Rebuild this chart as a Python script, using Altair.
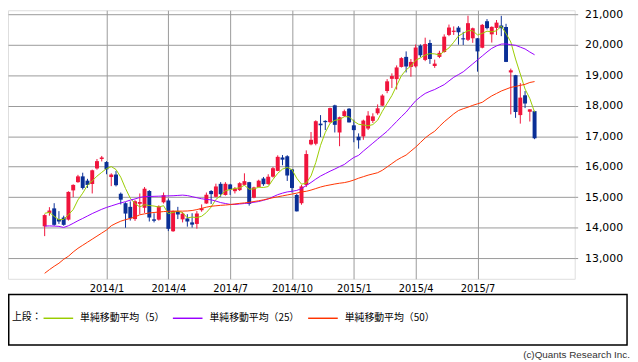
import altair as alt
import pandas as pd

# ---- data (weekly candles, Oct 2013 - Sep 2015) ----
weeks = pd.date_range("2013-10-07", periods=104, freq="W-MON")

opens = [14040, 14480, 14630, 14280, 14330, 14260, 15220, 15490, 15680, 15540,
         15430, 15940, 16250, 16150, 15660, 15740, 15110, 14800, 14680, 14280,
         14780, 14650, 15200, 14270, 14260, 14830, 14890, 13880, 14520, 14270,
         14300, 14170, 14120, 14570, 14790, 15200, 15010, 15435, 15070, 15415,
         15195, 15230, 15400, 15490, 14980, 15330, 15610, 15430, 15670, 15860,
         16300, 16340, 15910, 15070, 14800, 15400, 16730, 16750, 17410, 17500,
         17460, 18010, 17120, 17660, 17900, 17355, 16980, 16990, 17250, 17500,
         17750, 18000, 18480, 18880, 18870, 19270, 19600, 19270, 19290, 19970,
         19500, 20055, 19300, 19600, 19760, 20320, 20420, 20560, 20210, 20160,
         20210, 20210, 19900, 20770, 20340, 20550, 20630, 20580, 19090, 19000,
         17690, 18340, 17800, 17820]
highs = [14440, 14670, 14800, 14540, 14390, 15190, 15420, 15730, 15800, 15600,
         15900, 16250, 16350, 16180, 15780, 15860, 15150, 14830, 14860, 14900,
         15120, 15330, 15230, 14470, 14730, 15150, 14950, 14560, 14680, 14510,
         14440, 14470, 14540, 14760, 15150, 15230, 15440, 15490, 15490, 15435,
         15330, 15490, 15780, 15500, 15340, 15570, 15660, 15750, 15990, 16370,
         16380, 16374, 15920, 15100, 15400, 16533, 17135, 17520, 17690, 17520,
         17935, 18030, 17640, 17870, 17920, 17540, 17090, 17540, 17820, 17750,
         18040, 18375, 18870, 19060, 19320, 19590, 19780, 19530, 20006, 20010,
         20230, 20160, 19510, 19800, 20340, 20660, 20600, 20610, 20420, 20952,
         20560, 20220, 20680, 20840, 20600, 20810, 20946, 20685, 19215, 19010,
         18740, 18480, 17880, 17830]
lows = [13720, 14390, 14060, 14120, 14060, 14230, 15000, 15470, 15250, 15300,
        15120, 15900, 16170, 15750, 15360, 15350, 14760, 13995, 14230, 14220,
        14440, 14480, 14200, 14170, 14230, 14790, 13885, 13860, 14280, 14170,
        14030, 14000, 13965, 14520, 14780, 14775, 15000, 15010, 15050, 15070,
        15120, 15200, 15380, 14720, 14960, 15320, 15370, 15400, 15640, 15850,
        16045, 15530, 15150, 14529, 14750, 15330, 16700, 16700, 16970, 17200,
        17420, 17120, 16670, 17630, 17450, 16800, 16590, 16880, 17200, 17430,
        17700, 17990, 18410, 18580, 18530, 19250, 19090, 18950, 19250, 19590,
        19460, 19370, 19240, 19560, 19740, 20280, 20320, 20000, 19990, 20120,
        20060, 19115, 19880, 20500, 20070, 20320, 20280, 19430, 17714, 17600,
        17410, 17920, 17480, 16900]
closes = [14410, 14560, 14090, 14200, 14090, 15170, 15400, 15680, 15300, 15400,
          15880, 16180, 16300, 15910, 15740, 15390, 14915, 14460, 14310, 14865,
          14840, 15275, 14330, 14224, 14696, 15063, 13960, 14540, 14430, 14457,
          14200, 14097, 14462, 14632, 15077, 15097, 15349, 15095, 15437, 15250,
          15280, 15457, 15523, 14778, 15318, 15539, 15424, 15668, 15948, 16321,
          16229, 15708, 15300, 14532, 15350, 16413, 16880, 17490, 17357, 17459,
          17920, 17371, 17621, 17818, 17450, 17197, 16864, 17511, 17674, 17648,
          17913, 18332, 18798, 18971, 19254, 19560, 19285, 19435, 19907, 19652,
          20020, 19531, 19379, 19732, 20264, 20563, 20460, 20407, 20174, 20706,
          20539, 19780, 20650, 20544, 20585, 20724, 20540, 19435, 19160, 17792,
          18264, 18070, 17880, 16930]

ma5 = [14468, 14499, 14369, 14257, 14270, 14422, 14590, 14908, 15128, 15390,
       15532, 15688, 15812, 15934, 16002, 15904, 15651, 15283, 14963, 14788,
       14678, 14750, 14724, 14707, 14673, 14718, 14455, 14497, 14538, 14490,
       14318, 14345, 14329, 14370, 14494, 14673, 14923, 15050, 15211, 15246,
       15282, 15304, 15389, 15258, 15271, 15323, 15316, 15345, 15579, 15780,
       15918, 15975, 15901, 15618, 15424, 15461, 15695, 16133, 16698, 17120,
       17421, 17519, 17546, 17638, 17636, 17491, 17390, 17368, 17339, 17379,
       17522, 17816, 18073, 18332, 18654, 18983, 19174, 19301, 19488, 19568,
       19660, 19709, 19698, 19663, 19785, 19894, 20080, 20285, 20374, 20462,
       20457, 20321, 20370, 20444, 20420, 20457, 20609, 20366, 20089, 19530,
       19038, 18544, 18233, 17787]
ma25 = [14050, 14055, 14050, 14040, 14005, 14060, 14140, 14225, 14300, 14380,
        14460, 14530, 14600, 14660, 14710, 14760, 14810, 14850, 14900, 14940,
        14990, 15015, 15020, 15025, 15030, 15035, 15040, 15045, 15055, 15065,
        15050, 15015, 14980, 14945, 14925, 14910, 14870, 14820, 14790, 14760,
        14760, 14775, 14790, 14805, 14830, 14855, 14895, 14940, 15010, 15080,
        15130, 15170, 15190, 15220, 15280, 15380, 15480, 15590, 15690, 15770,
        15850, 15920, 16000, 16070, 16190, 16300, 16370, 16510, 16640, 16770,
        16900, 17030, 17160, 17320, 17480, 17640, 17790, 17980, 18160, 18290,
        18400, 18470, 18530, 18610, 18690, 18810, 18930, 19020, 19110, 19240,
        19370, 19500, 19630, 19760, 19880, 19960, 20020, 20025, 20000, 19980,
        19920, 19860, 19760, 19670]
ma50 = [12500, 12620, 12730, 12830, 12960, 13060, 13200, 13320, 13420, 13520,
        13620, 13720, 13820, 13920, 14060, 14140, 14210, 14260, 14300, 14350,
        14420, 14450, 14480, 14495, 14510, 14525, 14535, 14540, 14540, 14540,
        14545, 14560, 14590, 14630, 14670, 14700, 14715, 14730, 14740, 14755,
        14775, 14795, 14810, 14830, 14855, 14880, 14910, 14945, 14980, 15010,
        15040, 15070, 15100, 15130, 15170, 15190, 15230, 15280, 15330, 15370,
        15400, 15430, 15455, 15475, 15510, 15560, 15620, 15670, 15720, 15760,
        15800, 15880, 15990, 16100, 16210, 16300, 16380, 16510, 16640, 16790,
        16940, 17060, 17160, 17320, 17470, 17600, 17730, 17840, 17900, 17950,
        18010, 18060, 18110, 18220, 18320, 18400, 18480, 18540, 18600, 18630,
        18665, 18700, 18760, 18790]

series_names = ["単純移動平均（5）", "単純移動平均（25）", "単純移動平均（50）"]
series_colors = ["#99cc00", "#9900ff", "#ff3300"]
tick_labels = ["2014/1", "2014/4", "2014/7", "2014/10", "2015/1", "2015/4", "2015/7"]
y_ticks = [13000, 14000, 15000, 16000, 17000, 18000, 19000, 20000, 21000]
legend_title = "上段："
copyright_text = "(c)Quants Research Inc."

UP = "#f0143c"
DOWN = "#0a2f96"
GRID = "#999999"

# ---- tables ----
candles = pd.DataFrame({"idx": range(len(weeks)), "open": opens, "high": highs,
                        "low": lows, "close": closes})
ma = pd.concat([
    pd.DataFrame({"idx": range(len(weeks)), "value": vals, "series": name})
    for name, vals in zip(series_names, [ma5, ma25, ma50])
])

tick_idx = [i for i, d in enumerate(weeks)
            if f"{d.year}/{d.month}" in tick_labels and d.day <= 7]
label_expr = "''"
for i in reversed(tick_idx):
    d = weeks[i]
    label_expr = f"datum.value == {i} ? '{d.year}/{d.month}' : ({label_expr})"

xscale = alt.Scale(domain=[-6.67, 110.4], nice=False, zero=False)
yscale = alt.Scale(domain=[12320, 21130], nice=False, zero=False)

xaxis = alt.Axis(values=tick_idx, labelExpr=label_expr, ticks=False, domain=False,
                 grid=True, gridColor=GRID, gridOpacity=1, labelFont="DejaVu Sans",
                 labelFontSize=10, labelColor="#000000", labelPadding=5,
                 labelFlush=False, labelOverlap=False, title=None)
yaxis = alt.Axis(orient="right", values=y_ticks, format=",d", tickSize=3,
                 tickColor=GRID, domain=False, grid=True, gridColor=GRID,
                 gridOpacity=1, labelFont="DejaVu Sans", labelFontSize=11,
                 labelColor="#000000", labelPadding=7, labelOverlap=False,
                 labelFlush=False, title=None)

X = alt.X("idx:Q", scale=xscale, axis=xaxis)

color_cond = alt.condition("datum.close >= datum.open", alt.value(UP), alt.value(DOWN))

base = alt.Chart(candles)
wicks = base.mark_rule(strokeWidth=1).encode(
    x=X,
    y=alt.Y("low:Q", scale=yscale, axis=yaxis),
    y2="high:Q",
    color=color_cond,
)
bodies = base.mark_bar(size=4).encode(
    x=X,
    y=alt.Y("open:Q", scale=yscale, axis=yaxis),
    y2="close:Q",
    color=color_cond,
)
lines = alt.Chart(ma).mark_line(strokeWidth=1).encode(
    x=X,
    y=alt.Y("value:Q", scale=yscale, axis=yaxis),
    color=alt.Color(
        "series:N",
        sort=series_names,
        scale=alt.Scale(domain=series_names, range=series_colors),
        legend=alt.Legend(
            orient="none", legendX=35, legendY=296, direction="horizontal",
            title=None,
            labelFont="Noto Sans CJK JP", labelFontSize=10,
            labelColor="#000000", symbolType="stroke", symbolSize=900,
            symbolStrokeWidth=1.5, labelOffset=6, columnPadding=5, padding=0,
        ),
    ),
)

box = alt.Chart(pd.DataFrame({"k": [0]})).mark_rect(
    fillOpacity=0, stroke="#000000", strokeWidth=1.5
).encode(x=alt.value(0.75), x2=alt.value(627), y=alt.value(288), y2=alt.value(339))

legend_head = alt.Chart(pd.DataFrame({"t": [legend_title]})).mark_text(
    align="left", baseline="middle", font="Noto Sans CJK JP", fontSize=10, color="#000000"
).encode(text="t:N", x=alt.value(4), y=alt.value(311))

credit = alt.Chart(pd.DataFrame({"t": [copyright_text]})).mark_text(
    align="right", baseline="middle", font="Liberation Sans", fontSize=10, color="#333333"
).encode(text="t:N", x=alt.value(630), y=alt.value(349))

chart = alt.layer(wicks, bodies, lines, box, legend_head, credit).properties(
    width=574, height=272,
    autosize=alt.AutoSizeParams(type="none"),
    padding={"left": 0, "top": 0, "right": 56, "bottom": 82},
).configure_view(stroke=GRID, strokeWidth=1).configure(background="white")

chart.save("out.html", embed_options={"renderer": "svg", "actions": False})
